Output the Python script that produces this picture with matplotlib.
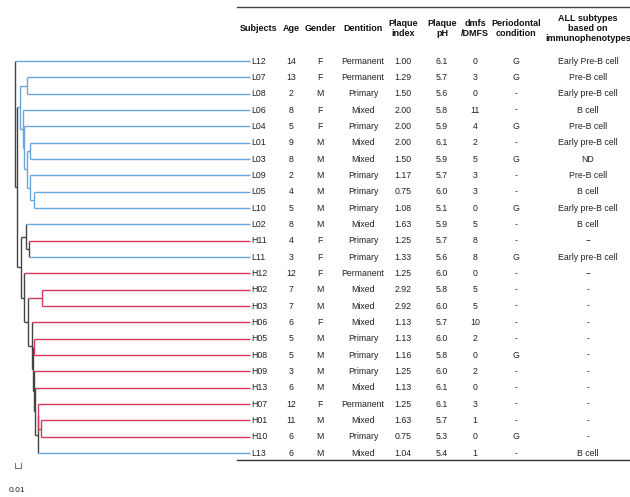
import matplotlib
matplotlib.use("Agg")
import matplotlib.pyplot as plt

plt.rcParams['font.family'] = ['Liberation Sans', 'DejaVu Sans']

# table data, top to bottom (same order as the tree leaves)
subjects = ["L12", "L07", "L08", "L06", "L04", "L01", "L03", "L09", "L05", "L10",
            "L02", "H11", "L11", "H12", "H02", "H03", "H06", "H05", "H08", "H09",
            "H13", "H07", "H01", "H10", "L13"]
age = [14, 13, 2, 8, 5, 9, 8, 2, 4, 5, 8, 4, 3, 12, 7, 7, 6, 5, 5, 3, 6, 12, 11, 6, 6]
gender = ["F", "F", "M", "F", "F", "M", "M", "M", "M", "M", "M", "F", "F", "F", "M",
          "M", "F", "M", "M", "M", "M", "F", "M", "M", "M"]
dentition = ["Permanent", "Permanent", "Primary", "Mixed", "Primary", "Mixed", "Mixed",
             "Primary", "Primary", "Primary", "Mixed", "Primary", "Primary", "Permanent",
             "Mixed", "Mixed", "Mixed", "Primary", "Primary", "Primary", "Mixed",
             "Permanent", "Mixed", "Primary", "Mixed"]
plaque_index = [1.00, 1.29, 1.50, 2.00, 2.00, 2.00, 1.50, 1.17, 0.75, 1.08, 1.63, 1.25,
                1.33, 1.25, 2.92, 2.92, 1.13, 1.13, 1.16, 1.25, 1.13, 1.25, 1.63, 0.75, 1.04]
plaque_ph = [6.1, 5.7, 5.6, 5.8, 5.9, 6.1, 5.9, 5.7, 6.0, 5.1, 5.9, 5.7, 5.6, 6.0, 5.8,
             6.0, 5.7, 6.0, 5.8, 6.0, 6.1, 6.1, 5.7, 5.3, 5.4]
dmfs = [0, 3, 0, 11, 4, 2, 5, 3, 3, 0, 5, 8, 8, 0, 5, 5, 10, 2, 0, 2, 0, 3, 1, 0, 1]
periodontal = ["G", "G", "-", "-", "G", "-", "G", "-", "-", "G", "-", "-", "G", "-", "-",
               "-", "-", "-", "G", "-", "-", "-", "-", "G", "-"]
all_subtype = ["Early Pre-B cell", "Pre-B cell", "Early pre-B cell", "B cell", "Pre-B cell",
               "Early pre-B cell", "ND", "Pre-B cell", "B cell", "Early pre-B cell", "B cell",
               "--", "Early pre-B cell", "--", "-", "-", "-", "-", "-", "-", "-", "-", "-",
               "-", "B cell"]

headers = ["Subjects", "Age", "Gender", "Dentition", "Plaque\nindex", "Plaque\npH",
           "dmfs\n/DMFS", "Periodontal\ncondition", "ALL subtypes\nbased on\nimmunophenotypes"]

# tree: internal node -> (children, node depth)
tree = {
    "root": (["L12", "R2"], 0.0),
    "R2": (["A", "R3"], 0.0038),
    "A": (["N0708", "B"], 0.0090),
    "N0708": (["L07", "L08"], 0.0211),
    "B": (["L06", "B1"], 0.0144),
    "B1": (["L04", "C"], 0.0151),
    "C": (["D", "F"], 0.0205),
    "D": (["L01", "L03"], 0.0265),
    "F": (["L09", "E"], 0.0265),
    "E": (["L05", "L10"], 0.0342),
    "R3": (["P", "S"], 0.0097),
    "P": (["L02", "Q"], 0.0187),
    "Q": (["H11", "L11"], 0.0248),
    "S": (["H12", "T"], 0.0157),
    "T": (["N0203", "U"], 0.0223),
    "N0203": (["H02", "H03"], 0.0473),
    "U": (["H06", "V"], 0.0301),
    "V": (["W", "G"], 0.0315),
    "W": (["H05", "H08"], 0.0342),
    "G": (["H09", "Z"], 0.0342),
    "Z": (["H13", "Y"], 0.0356),
    "Y": (["X", "L13"], 0.0400),
    "X": (["H07", "N0110"], 0.0414),
    "N0110": (["H01", "H10"], 0.0463),
}
tip_depth = 0.42
scale_len = 0.01

colors = {"L": "#6aa6dd", "H": "#d6375a", "mix": "#444444"}

ypos = {}
group = {}


def layout(name):
    if name not in tree:
        ypos[name] = subjects.index(name)
        group[name] = name[0]
        return
    kids, d = tree[name]
    for k in kids:
        layout(k)
    ys = [ypos[k] for k in kids]
    ypos[name] = (min(ys) + max(ys)) / 2
    gs = set(group[k] for k in kids)
    group[name] = gs.pop() if len(gs) == 1 else "mix"


layout("root")

W_PX, H_PX = 630, 497
row0, row_h = 61, 16.34
ylim = ((H_PX - row0) / row_h, -row0 / row_h)

fig = plt.figure(figsize=(W_PX / 100, H_PX / 100), dpi=100)

# ---- tree ----
tree_left, tree_right = 15.3, 250
axt = fig.add_axes([tree_left / W_PX, 0, (tree_right - tree_left) / W_PX, 1])
axt.set_xlim(0, tip_depth)
axt.set_ylim(*ylim)
axt.axis('off')

for name, (kids, d) in tree.items():
    ys = [ypos[k] for k in kids]
    axt.plot([d, d], [min(ys), max(ys)], color=colors[group[name]], lw=1.0,
             solid_capstyle='butt', clip_on=False)
    for k in kids:
        kd = tree[k][1] if k in tree else tip_depth
        axt.plot([d, kd], [ypos[k], ypos[k]], color=colors[group[k]], lw=1.0,
                 solid_capstyle='butt', clip_on=False)

# scale bar
yb = (468 - row0) / row_h
yt = (463 - row0) / row_h
axt.plot([0, 0, scale_len, scale_len], [yt, yb, yb, yt], color="#777777", lw=0.8,
         clip_on=False)
axt.text(scale_len * 0.3, (491 - row0) / row_h, "0.01", fontsize=6, ha='center',
         va='center', color="#222222")

# ---- table ----
ax = fig.add_axes([0, 0, 1, 1])
ax.set_xlim(0, W_PX)
ax.set_ylim(H_PX, 0)
ax.axis('off')
ax.patch.set_alpha(0)

col_x = [259, 291, 320, 363, 403, 442, 475, 516, 588]
fs = 6.3
hfs = 6.5

for x, h in zip(col_x, headers):
    ax.text(x, 28.5, h, fontsize=hfs, fontweight='bold', ha='center', va='center',
            linespacing=1.15, color="#111111")

ax.plot([236.5, 630], [6.7, 6.7], color="#444444", lw=1.0)
ax.plot([237, 630], [460, 460], color="#333333", lw=1.0)

for i, s in enumerate(subjects):
    y = row0 + row_h * i
    ax.text(251, y, s, fontsize=fs, ha='left', va='center', color="#222222")
    vals = [str(age[i]), gender[i], dentition[i], f"{plaque_index[i]:.2f}",
            f"{plaque_ph[i]:.1f}", str(dmfs[i]), periodontal[i], all_subtype[i]]
    for x, v in zip(col_x[1:], vals):
        ax.text(x, y, v, fontsize=fs, ha='center', va='center', color="#222222")

fig.savefig("out.png", dpi=100)
